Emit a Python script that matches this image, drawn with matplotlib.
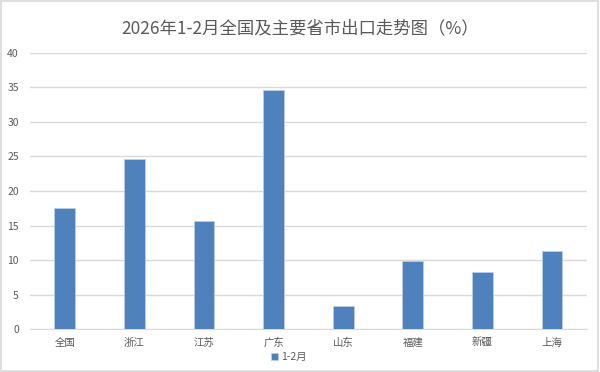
import matplotlib.pyplot as plt
import numpy as np
from matplotlib.patches import Rectangle

plt.rcParams['font.family'] = ['Noto Sans CJK SC', 'DejaVu Sans']

regions = ['全国', '浙江', '江苏', '广东', '山东', '福建', '新疆', '上海']
growth = [17.5, 24.6, 15.6, 34.6, 3.3, 9.9, 8.3, 11.3]
series_name = '1-2月'
yticks = [0, 5, 10, 15, 20, 25, 30, 35, 40]

fig = plt.figure(figsize=(6, 3.72), dpi=100)
ax = fig.add_axes([0.05, 0.115, 0.928, 0.743])

x = np.arange(len(regions))
ax.bar(x, growth, width=0.3, color='#4F81BD', edgecolor='#B9CDE5', linewidth=0.6,
       label=series_name, zorder=3)

ax.set_xlim(-0.5, len(regions) - 0.5)
ax.set_ylim(0, 40)
ax.set_yticks(yticks)
ax.yaxis.grid(True, color='#D9D9D9', linewidth=1, zorder=0)
ax.set_xticks(x, regions)
ax.tick_params(axis='both', length=0, labelsize=7.5, colors='#595959', pad=6)
ax.tick_params(axis='y', pad=8)
for s in ['top', 'right', 'left']:
    ax.spines[s].set_visible(False)
ax.spines['bottom'].set_color('#D9D9D9')

fig.text(0.5, 0.925, '2026年1-2月全国及主要省市出口走势图（%）', ha='center', va='center',
         fontsize=12.5, color='#595959')

ax.legend(loc='upper center', bbox_to_anchor=(0.465, -0.05), frameon=False, fontsize=7.5,
          labelcolor='#595959', handlelength=0.6, handleheight=0.6, handletextpad=0.3)

fig.patches.append(Rectangle((0.002, 0.003), 0.995, 0.993, transform=fig.transFigure,
                             fill=False, edgecolor='#D9D9D9', linewidth=1.2))

fig.savefig('out.png', dpi=100)
